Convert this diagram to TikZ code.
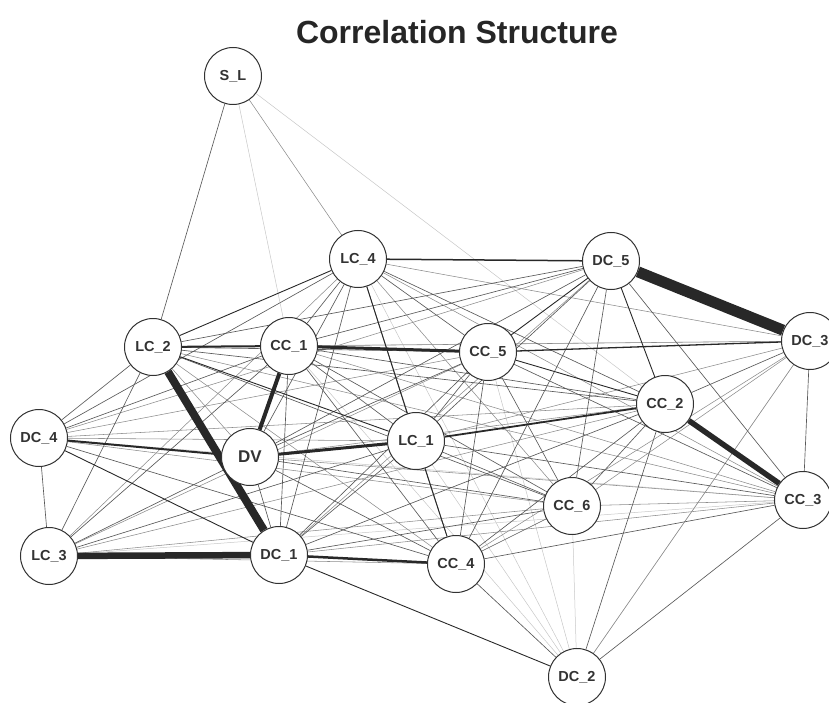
\documentclass[tikz,border=0pt]{standalone}
\usepackage{fontspec}
\setmainfont{Liberation Sans}
\usepackage{tikz}
\usetikzlibrary{
    shapes, arrows.meta, positioning, calc, backgrounds
}
\definecolor{colEdge}{RGB}{40, 40, 40}
\definecolor{colRing}{RGB}{50, 50, 50}

\begin{document}
\begin{tikzpicture}[x=1pt, y=-1pt,
    var/.style={circle, draw=colRing, line width=1pt, fill=white,
        minimum size=57pt, inner sep=0pt, text=black!80,
        font=\bfseries\fontsize{14.5}{16}\selectfont},
    wA/.style={draw=colEdge, line width=0.9pt},
    wB/.style={draw=black!65, line width=0.65pt},
    wC/.style={draw=black!45, line width=0.55pt},
    wD/.style={draw=black!22, line width=0.5pt}]
    \useasboundingbox (0,0) rectangle (829,703);

    % --- Title ---
    \node[font=\bfseries\fontsize{32}{36}\selectfont, text=black!85] (title) at (457,32) {Correlation Structure};

    % --- Variables ---
    \node[var] (SL)  at (233,76)  {S\_L};
    \node[var] (LC4) at (358,259) {LC\_4};
    \node[var] (DC5) at (611,261) {DC\_5};
    \node[var] (DC3) at (810,341) {DC\_3};
    \node[var] (LC2) at (153,347) {LC\_2};
    \node[var] (CC1) at (289,346) {CC\_1};
    \node[var] (CC5) at (488,352) {CC\_5};
    \node[var] (CC2) at (665,404) {CC\_2};
    \node[var] (DC4) at (39,438)  {DC\_4};
    \node[var, font=\bfseries\fontsize{17}{18}\selectfont] (DV) at (250,457) {DV};
    \node[var] (LC1) at (416,441) {LC\_1};
    \node[var] (CC3) at (803,500) {CC\_3};
    \node[var] (CC6) at (572,506) {CC\_6};
    \node[var] (LC3) at (49,556)  {LC\_3};
    \node[var] (DC1) at (279,555) {DC\_1};
    \node[var] (CC4) at (456,564) {CC\_4};
    \node[var] (DC2) at (577,677) {DC\_2};

    \begin{scope}[on background layer]
    % --- weak links (very light) ---
    \foreach \a/\b in {SL/CC2, SL/CC1, LC4/DC2, DC3/DC2, DC3/LC2, CC1/DC2,
        DC4/CC3, CC3/LC3, CC6/DC2, CC5/DC2, LC1/DC2} {
        \draw[wD] (\a) -- (\b);
    }
    % --- light links ---
    \foreach \a/\b in {SL/LC4, LC4/DC3, LC4/LC3, LC4/CC6, LC4/CC3, DC5/DC1,
        DC5/DC4, DC3/CC1, DC3/LC1, DC3/CC6, DC3/CC4, LC2/DV, LC2/CC4, LC2/CC3,
        CC1/CC3, CC5/DC4, CC5/LC3, CC2/DV, CC2/DC4, CC2/LC3, DC4/LC1, DC4/CC6,
        DV/CC3, CC3/CC6, CC3/DC1, CC6/LC3, LC3/CC4, DC2/DC3} {
        \draw[wC] (\a) -- (\b);
    }
    % --- medium links ---
    \foreach \a/\b in {SL/LC2, LC4/CC1, LC4/DV, LC4/CC5, LC4/CC2, LC4/DC4,
        LC4/DC1, LC4/CC4, DC5/LC2, DC5/CC1, DC5/DV, DC5/LC1, DC5/CC6, DC5/CC4,
        DC5/CC3, DC3/CC2, DC3/CC3, LC2/CC5, LC2/DC4, LC2/LC3, LC2/CC2, LC2/CC6,
        CC1/LC1, CC1/CC2, CC1/CC6, CC1/CC4, CC1/DC1, CC1/DC4, CC1/LC3, CC5/DV,
        CC5/LC1, CC5/CC6, CC5/CC4, CC5/DC1, CC5/CC3, CC2/CC6, CC2/CC4, CC2/DC1,
        CC2/DC2, DC4/CC4, DC4/LC3, DV/DC1, DV/CC6, DV/CC4, DV/LC3, LC1/CC6,
        LC1/CC3, LC1/LC3, LC1/DC1, CC3/CC4, CC3/DC2, CC6/CC4, CC6/DC1, CC4/DC2} {
        \draw[wB] (\a) -- (\b);
    }
    % --- dark thin links ---
    \foreach \a/\b in {LC4/LC2, LC4/LC1, DC5/CC5, DC5/CC2, LC2/LC1, CC5/CC2,
        DC4/DC1, LC1/CC4, DC1/DC2} {
        \draw[wA] (\a) -- (\b);
    }
    % --- strong links ---
    \foreach \a/\b/\w in {CC5/DC3/1.3, LC4/DC5/1.5, LC1/CC2/1.8, DC4/DV/2,
        LC2/CC1/2, DC1/CC4/2.5, CC1/CC5/3, DV/LC1/3, CC1/DV/4, CC2/CC3/5.5,
        LC3/DC1/6.5, LC2/DC1/8, DC5/DC3/11} {
        \draw[draw=colEdge, line width=\w pt] (\a) -- (\b);
    }
    \end{scope}
\end{tikzpicture}
\end{document}
